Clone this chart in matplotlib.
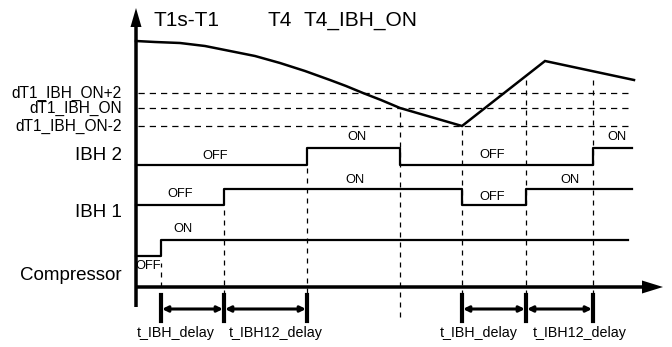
import matplotlib
matplotlib.use("Agg")
import matplotlib.pyplot as plt
from matplotlib import font_manager

# шрифт: Arial-подобный
plt.rcParams['font.family'] = ['Liberation Sans', 'DejaVu Sans']
names = {f.name for f in font_manager.fontManager.ttflist}
narrow = 'Liberation Sans Narrow' in names

# --- данные (время по оси X, уровень по оси Y, в единицах схемы) ---
curve_t = [0, 19, 44, 69, 94, 119, 144, 169, 194, 210, 227, 245, 264, 326, 409, 498]
curve_v = [246, 245, 244, 241, 236, 231, 224, 216, 207, 201, 194, 187, 179, 161, 226, 207]

thr_levels = [194, 179, 161]
thr_labels = ['dT1_IBH_ON+2', 'dT1_IBH_ON', 'dT1_IBH_ON-2']

ibh2_t = [0, 171, 171, 264, 264, 457, 457, 496]
ibh2_v = [122, 122, 139, 139, 122, 122, 139, 139]

ibh1_t = [0, 88, 88, 326, 326, 390, 390, 496]
ibh1_v = [82, 82, 98, 98, 82, 82, 98, 98]

comp_t = [0, 25, 25, 492]
comp_v = [31, 31, 47, 47]

row_labels = ['IBH 2', 'IBH 1', 'Compressor']
row_y = [132, 75, 12]

state_text = ['OFF', 'ON', 'OFF', 'ON', 'OFF', 'ON', 'OFF', 'ON', 'ON', 'OFF']
state_t = [79, 221, 356, 481, 44, 219, 356, 434, 47, 12]
state_v = [131, 150, 132, 150, 93, 107, 90, 107, 58, 21]

# вертикальные пунктиры: момент, верх, низ
vline_t = [25, 88, 171, 264, 326, 390, 457]
vline_top = [24, 82, 122, 179, 161, 212, 208]
vline_bot = [0, -8, -16, -30, -8, -8, -8]

delay_marks = [[25, 88, 171], [326, 390, 457]]
delay_names = ['t_IBH_delay', 't_IBH12_delay']
delay_label_t = [[40, 140], [343, 444]]

titles = ['T1s-T1', 'T4', 'T4_IBH_ON']
title_t = [18, 131, 167]

fig = plt.figure(figsize=(6.72, 3.47), dpi=100)
ax = fig.add_axes([0, 0, 1, 1])
ax.set_xlim(-136, 536)
ax.set_ylim(-60, 287)
ax.axis('off')

# оси со стрелками
ax.arrow(0, -20, 0, 299, width=3.5, head_width=11, head_length=19,
         length_includes_head=True, color='k', lw=0)
ax.arrow(0, 0, 527, 0, width=3.5, head_width=13, head_length=21,
         length_includes_head=True, color='k', lw=0)

# кривая температуры
ax.plot(curve_t, curve_v, color='k', lw=1.8, solid_joinstyle='miter')

# пороговые линии
for lv, lab in zip(thr_levels, thr_labels):
    ax.plot([2, 496], [lv, lv], color='k', lw=0.9, dashes=(5, 4))
    if narrow:
        ax.text(-14, lv, lab, ha='right', va='center', fontsize=13,
                family='Liberation Sans Narrow')
    else:
        ax.text(-14, lv, lab, ha='right', va='center', fontsize=11.2)

# сигналы
ax.plot(ibh2_t, ibh2_v, color='k', lw=1.6)
ax.plot(ibh1_t, ibh1_v, color='k', lw=1.6)
ax.plot(comp_t, comp_v, color='k', lw=1.6)

for lab, y in zip(row_labels, row_y):
    ax.text(-14, y, lab, ha='right', va='center', fontsize=13.5)

for s, t, v in zip(state_text, state_t, state_v):
    ax.text(t, v, s, ha='center', va='center', fontsize=9.3)

for t, top, bot in zip(vline_t, vline_top, vline_bot):
    ax.plot([t, t], [bot, top], color='k', lw=0.9, dashes=(4, 4))

# интервалы задержек
for group, lab_t in zip(delay_marks, delay_label_t):
    for t in group:
        ax.plot([t, t], [-8, -34], color='k', lw=3)
    for a, b, name, lt in zip(group[:-1], group[1:], delay_names, lab_t):
        ax.annotate('', xy=(b - 1, -22), xytext=(a + 1, -22),
                    arrowprops=dict(arrowstyle='<|-|>', lw=2.2, color='k',
                                    mutation_scale=8, shrinkA=0, shrinkB=0))
        ax.text(lt, -46, name, ha='center', va='center', fontsize=10.3)

for s, t in zip(titles, title_t):
    ax.text(t, 267, s, ha='left', va='center', fontsize=15)

fig.savefig('out.png', dpi=100)
